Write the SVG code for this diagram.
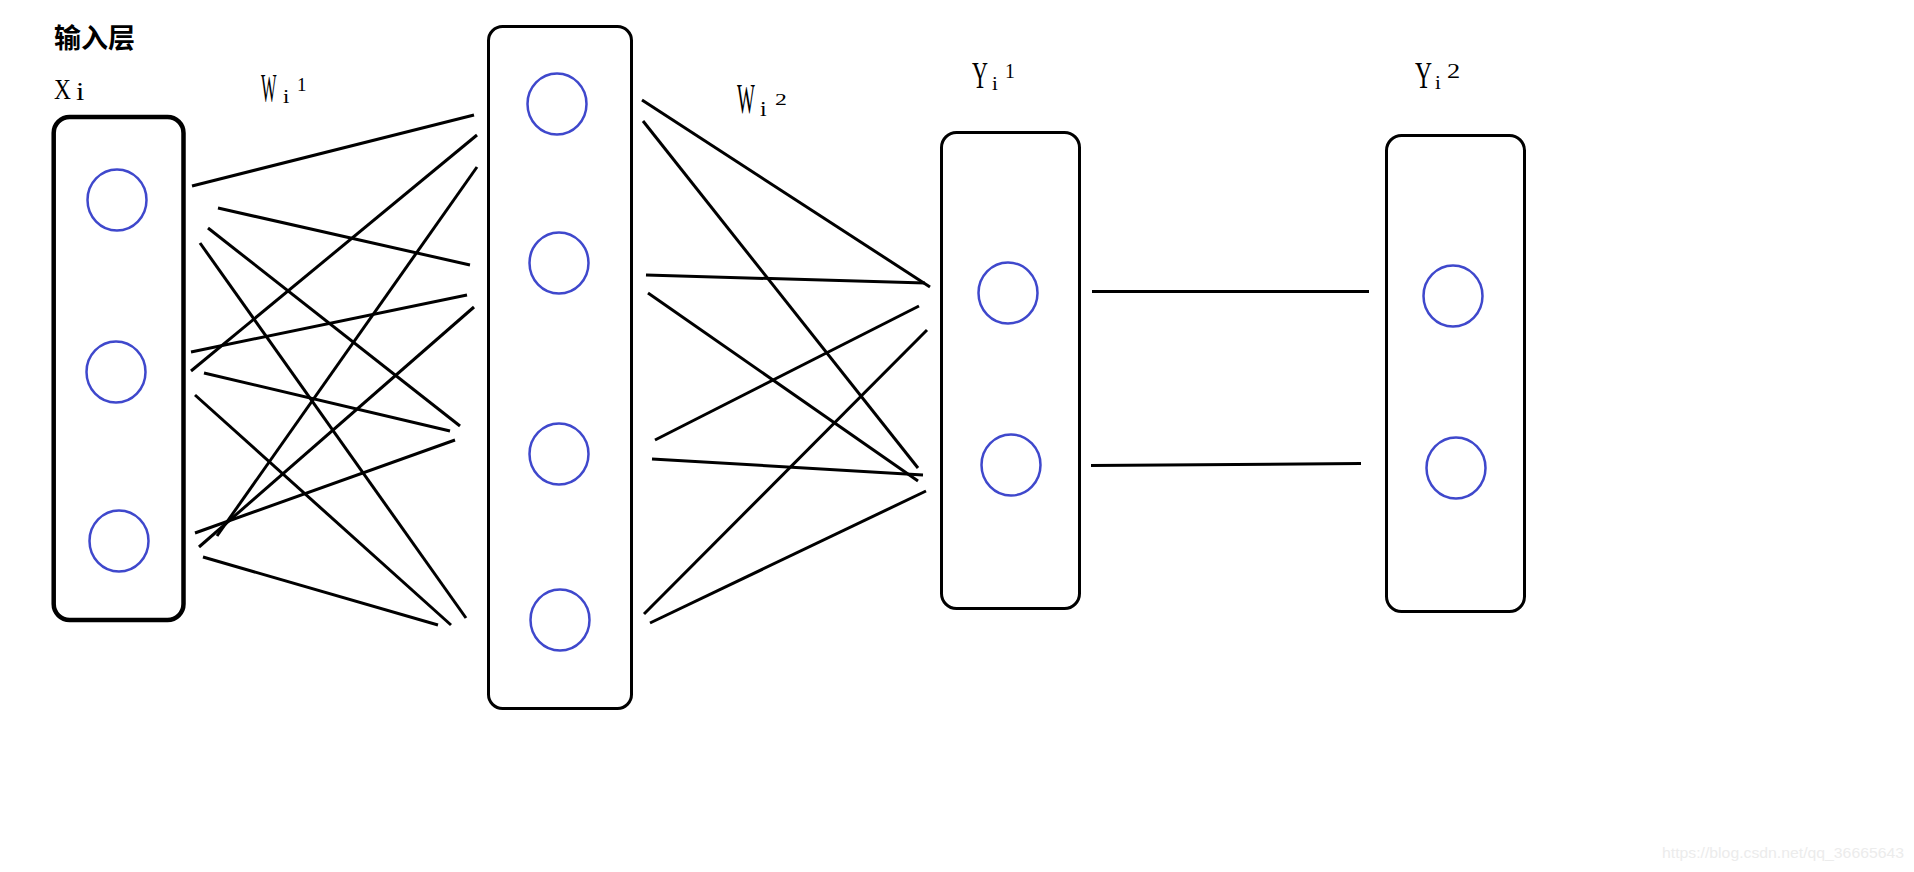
<svg xmlns="http://www.w3.org/2000/svg" width="1914" height="872" viewBox="0 0 1914 872">
<style>
.box{fill:none;stroke:#000;stroke-width:3}
.thick{stroke-width:4.5}
.neuron{fill:none;stroke:#3f48cc;stroke-width:2.5}
.conn line{stroke:#000;stroke-width:3;stroke-linecap:butt}
.lbl{font-family:"Liberation Serif","DejaVu Serif",serif;fill:#000}
.title{font-family:"Noto Sans CJK SC","Noto Sans",sans-serif;font-weight:bold;font-size:27px;fill:#000}
.wm{font-family:"Liberation Sans",Arial,sans-serif;font-size:15px;fill:#ececec}
</style>
<rect width="1914" height="872" fill="#fff"/>
<g id="title"><text class="title" x="54" y="48">输入层</text></g>
<g id="labels">
<g id="label-xi">
<text class="lbl" font-size="29" transform="translate(54,99) scale(0.81,1)">X</text>
<text class="lbl" font-size="25" transform="translate(76,100) scale(1.2,1)">i</text>
</g>
<g id="label-w1">
<text class="lbl" font-size="41" transform="translate(261,101) scale(0.4,1)">W</text>
<text class="lbl" font-size="19" transform="translate(283,103) scale(1.2,1)">i</text>
<text class="lbl" font-size="19" transform="translate(297,91) scale(1,1)">1</text>
</g>
<g id="label-w2">
<text class="lbl" font-size="42" transform="translate(737,113) scale(0.45,1)">W</text>
<text class="lbl" font-size="20" transform="translate(760,115.5) scale(1.2,1)">i</text>
<text class="lbl" font-size="17" transform="translate(775,105) scale(1.4,1)">2</text>
</g>
<g id="label-y1">
<text class="lbl" font-size="38" transform="translate(972,88) scale(0.58,1)">Y</text>
<text class="lbl" font-size="19" transform="translate(992,90) scale(1.1,1)">i</text>
<text class="lbl" font-size="22" transform="translate(1005,78) scale(0.9,1)">1</text>
</g>
<g id="label-y2">
<text class="lbl" font-size="38" transform="translate(1415,88) scale(0.62,1)">Y</text>
<text class="lbl" font-size="19" transform="translate(1435,89) scale(1.1,1)">i</text>
<text class="lbl" font-size="22" transform="translate(1447,78) scale(1.2,1)">2</text>
</g>
</g>
<g id="input-layer">
<rect class="box thick" x="53.7" y="117" width="129.8" height="503" rx="16"/>
<ellipse class="neuron" cx="117" cy="200" rx="29.5" ry="30.5"/>
<ellipse class="neuron" cx="116" cy="372" rx="29.5" ry="30.5"/>
<ellipse class="neuron" cx="119" cy="541" rx="29.5" ry="30.5"/>
</g>
<g id="hidden-layer">
<rect class="box" x="488.5" y="26.5" width="143" height="682" rx="14"/>
<ellipse class="neuron" cx="557" cy="104" rx="29.5" ry="30.5"/>
<ellipse class="neuron" cx="559" cy="263" rx="29.5" ry="30.5"/>
<ellipse class="neuron" cx="559" cy="454" rx="29.5" ry="30.5"/>
<ellipse class="neuron" cx="560" cy="620" rx="29.5" ry="30.5"/>
</g>
<g id="y1-layer">
<rect class="box" x="941.5" y="132.5" width="138" height="476" rx="15"/>
<ellipse class="neuron" cx="1008" cy="293" rx="29.5" ry="30.5"/>
<ellipse class="neuron" cx="1011" cy="465" rx="29.5" ry="30.5"/>
</g>
<g id="y2-layer">
<rect class="box" x="1386.5" y="135.5" width="138" height="476" rx="15"/>
<ellipse class="neuron" cx="1453" cy="296" rx="29.5" ry="30.5"/>
<ellipse class="neuron" cx="1456" cy="468" rx="29.5" ry="30.5"/>
</g>
<g id="connectors" class="conn">
<line x1="192" y1="186" x2="474" y2="115"/>
<line x1="218" y1="208" x2="470" y2="265"/>
<line x1="208" y1="228" x2="460" y2="426"/>
<line x1="200" y1="243" x2="466" y2="618"/>
<line x1="191" y1="371" x2="477" y2="135"/>
<line x1="191" y1="352" x2="467" y2="295"/>
<line x1="204" y1="373" x2="450" y2="431"/>
<line x1="195" y1="395" x2="451" y2="625"/>
<line x1="477" y1="167" x2="217" y2="536"/>
<line x1="474" y1="307" x2="199" y2="547"/>
<line x1="455" y1="440" x2="195" y2="533"/>
<line x1="203" y1="557" x2="438" y2="625"/>
<line x1="642" y1="100" x2="930" y2="287"/>
<line x1="643" y1="121" x2="918" y2="468"/>
<line x1="646" y1="275" x2="925" y2="283"/>
<line x1="648" y1="293" x2="918" y2="481"/>
<line x1="655" y1="440" x2="919" y2="306"/>
<line x1="652" y1="459" x2="923" y2="475"/>
<line x1="644" y1="614" x2="927" y2="330"/>
<line x1="650" y1="623" x2="926" y2="491"/>
<line x1="1092" y1="291.5" x2="1369" y2="291.5"/>
<line x1="1091" y1="465.5" x2="1361" y2="463.5"/>
</g>
<text class="wm" x="1662" y="858" textLength="242" lengthAdjust="spacingAndGlyphs">https://blog.csdn.net/qq_36665643</text>
</svg>
